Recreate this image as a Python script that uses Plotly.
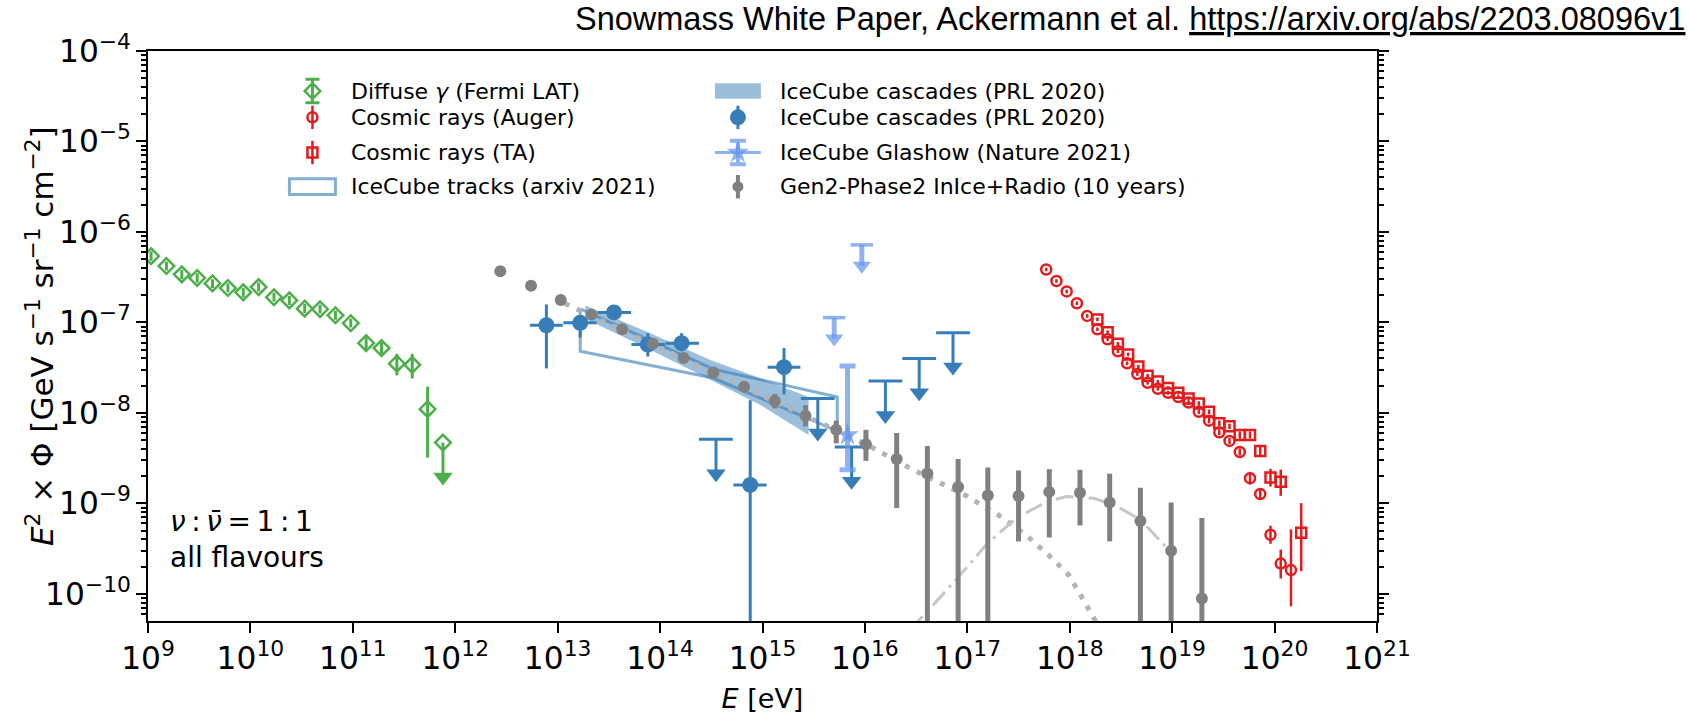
import numpy as np
import plotly.graph_objects as go

# ---------------------------------------------------------------------------
# Data: energies as log10(E / eV), fluxes as E^2 x Phi [GeV s^-1 sr^-1 cm^-2]
# ---------------------------------------------------------------------------

# Diffuse gamma rays (Fermi LAT)
fermi_lg_e = [9.03, 9.18, 9.33, 9.48, 9.63, 9.78, 9.93, 10.08, 10.23, 10.38,
              10.53, 10.68, 10.83, 10.98, 11.13, 11.28, 11.43, 11.58, 11.73]
fermi_flux = [5.4e-7, 4.2e-7, 3.4e-7, 3.1e-7, 2.7e-7, 2.4e-7, 2.15e-7, 2.46e-7, 1.9e-7, 1.75e-7,
              1.42e-7, 1.40e-7, 1.20e-7, 9.8e-8, 5.9e-8, 5.2e-8, 3.5e-8, 3.4e-8, 1.1e-8]
fermi_lo = [4.8e-7, 3.75e-7, 3.0e-7, 2.75e-7, 2.4e-7, 2.15e-7, 1.9e-7, 2.2e-7, 1.7e-7, 1.56e-7,
            1.27e-7, 1.25e-7, 1.07e-7, 8.8e-8, 5.1e-8, 4.5e-8, 2.6e-8, 2.4e-8, 3.2e-9]
fermi_hi = [6.1e-7, 4.7e-7, 3.8e-7, 3.5e-7, 3.0e-7, 2.7e-7, 2.4e-7, 2.75e-7, 2.13e-7, 1.96e-7,
            1.6e-7, 1.57e-7, 1.35e-7, 1.1e-7, 6.8e-8, 6.0e-8, 4.5e-8, 4.5e-8, 1.95e-8]
fermi_ul_lg_e = [11.88]
fermi_ul_flux = [4.7e-9]

# Cosmic rays (Auger)
auger_lg_e = [17.77, 17.87, 17.97, 18.07, 18.17, 18.27, 18.37, 18.47, 18.56, 18.66,
              18.76, 18.86, 18.96, 19.06, 19.16, 19.26, 19.36, 19.46, 19.56, 19.66,
              19.76, 19.86, 19.96, 20.06, 20.16]
auger_flux = [3.85e-7, 2.87e-7, 2.2e-7, 1.63e-7, 1.18e-7, 8.4e-8, 6.5e-8, 4.8e-8, 3.53e-8, 2.69e-8,
              2.15e-8, 1.85e-8, 1.67e-8, 1.5e-8, 1.3e-8, 1.03e-8, 8.2e-9, 6.1e-9, 4.9e-9, 3.7e-9,
              1.9e-9, 1.27e-9, 4.5e-10, 2.16e-10, 1.83e-10]
auger_dn_dex = [0.02, 0.02, 0.02, 0.02, 0.02, 0.02, 0.02, 0.02, 0.02, 0.02,
                0.02, 0.02, 0.02, 0.02, 0.025, 0.025, 0.03, 0.03, 0.035, 0.04,
                0.07, 0.05, 0.10, 0.165, 0.40]
auger_up_dex = [0.02, 0.02, 0.02, 0.02, 0.02, 0.02, 0.02, 0.02, 0.02, 0.02,
                0.02, 0.02, 0.02, 0.02, 0.025, 0.025, 0.03, 0.03, 0.035, 0.04,
                0.07, 0.05, 0.10, 0.155, 0.45]

# Cosmic rays (TA)
ta_lg_e = [18.27, 18.37, 18.47, 18.57, 18.67, 18.76, 18.86, 18.96, 19.06, 19.16,
           19.26, 19.36, 19.46, 19.56, 19.66, 19.76, 19.86, 19.96, 20.06, 20.26]
ta_flux = [1.08e-7, 7.8e-8, 5.8e-8, 4.43e-8, 3.25e-8, 2.58e-8, 2.22e-8, 1.88e-8, 1.67e-8, 1.44e-8,
           1.27e-8, 1.03e-8, 7.7e-9, 7.1e-9, 5.7e-9, 5.7e-9, 3.8e-9, 1.93e-9, 1.73e-9, 4.75e-10]
ta_dn_dex = [0.02, 0.02, 0.02, 0.02, 0.02, 0.02, 0.02, 0.02, 0.02, 0.02,
             0.025, 0.025, 0.03, 0.03, 0.04, 0.04, 0.05, 0.10, 0.155, 0.426]
ta_up_dex = [0.02, 0.02, 0.02, 0.02, 0.02, 0.02, 0.02, 0.02, 0.02, 0.02,
             0.025, 0.025, 0.03, 0.03, 0.04, 0.04, 0.05, 0.097, 0.135, 0.326]

# IceCube tracks (arxiv 2021): upper / lower edge of the allowed region
tracks_lg_e = [13.22, 14.52, 15.73]
tracks_hi = [1.41e-7, 3.05e-8, 1.5e-8]
tracks_lo = [4.8e-8, 2.43e-8, 6.3e-9]

# IceCube cascades (PRL 2020): allowed band
band_lg_e = [13.27, 13.87, 14.49, 14.98, 15.45]
band_lo = [1.10e-7, 5.2e-8, 2.33e-8, 1.22e-8, 5.7e-9]
band_hi = [1.54e-7, 7.9e-8, 3.85e-8, 2.41e-8, 1.5e-8]

# IceCube cascades (PRL 2020): unfolded points and upper limits
casc_lg_e = [12.89, 13.22, 13.55, 13.88, 14.21, 14.88, 15.21]
casc_lg_e_lo = [12.73, 13.055, 13.388, 13.72, 14.055, 14.716, 15.05]
casc_lg_e_hi = [13.05, 13.38, 13.717, 14.05, 14.38, 15.04, 15.37]
casc_flux = [9.3e-8, 9.9e-8, 1.29e-7, 5.7e-8, 5.9e-8, 1.6e-9, 3.2e-8]
casc_lo = [3.1e-8, 6.8e-8, 1.15e-7, 4.2e-8, 4.8e-8, 1e-12, 1.6e-8]
casc_hi = [1.58e-7, 1.15e-7, 1.45e-7, 7.6e-8, 7.6e-8, 1.38e-8, 5.2e-8]
casc_ul_lg_e = [14.546, 15.54, 15.87, 16.20, 16.53, 16.86]
casc_ul_lg_e_lo = [14.38, 15.375, 15.705, 16.035, 16.365, 16.695]
casc_ul_lg_e_hi = [14.71, 15.705, 16.035, 16.365, 16.695, 17.025]
casc_ul_flux = [5.1e-9, 1.44e-8, 4.2e-9, 2.25e-8, 4.0e-8, 7.7e-8]

# IceCube Glashow resonance event (Nature 2021)
glashow_lg_e = [15.83]
glashow_flux = [5.7e-9]
glashow_lo = [2.35e-9]
glashow_hi = [3.3e-8]
glashow_ul_lg_e = [15.70, 15.97]
glashow_ul_flux = [1.13e-7, 7.2e-7]

# Gen2-Phase2 InIce+Radio (10 years) projected sensitivity points
gen2_lg_e = [12.44, 12.74, 13.03, 13.33, 13.63, 13.93, 14.23, 14.52, 14.82, 15.12,
             15.42, 15.72, 16.01, 16.31, 16.61, 16.91, 17.20, 17.50, 17.80, 18.10,
             18.39, 18.69, 18.99, 19.29]
gen2_flux = [3.69e-7, 2.54e-7, 1.77e-7, 1.22e-7, 8.4e-8, 5.8e-8, 4.04e-8, 2.8e-8, 1.94e-8, 1.35e-8,
             9.3e-9, 6.5e-9, 4.5e-9, 3.1e-9, 2.14e-9, 1.52e-9, 1.22e-9, 1.21e-9, 1.34e-9, 1.31e-9,
             1.02e-9, 6.4e-10, 3.0e-10, 8.9e-11]
gen2_lo = [3.2e-7, 2.37e-7, 1.65e-7, 1.14e-7, 7.8e-8, 5.35e-8, 3.7e-8, 2.5e-8, 1.7e-8, 1.12e-8,
           7.1e-9, 4.6e-9, 2.95e-9, 8.9e-10, 1e-12, 1e-12, 1e-12, 3.8e-10, 4.2e-10, 5.7e-10,
           3.8e-10, 1e-12, 1e-12, 1e-12]
gen2_hi = [4.2e-7, 2.72e-7, 1.9e-7, 1.31e-7, 9.0e-8, 6.3e-8, 4.4e-8, 3.15e-8, 2.2e-8, 1.62e-8,
           1.22e-8, 8.2e-9, 6.5e-9, 6.0e-9, 4.3e-9, 3.1e-9, 2.5e-9, 2.31e-9, 2.39e-9, 2.35e-9,
           2.13e-9, 1.49e-9, 1.02e-9, 6.9e-10]

# Gen2 model curves
model_dotted_lg_e = [13.07, 13.5, 14.0, 14.5, 15.0, 15.5, 16.0, 16.44, 16.72, 16.98,
                     17.35, 17.58, 17.79, 17.99, 18.13, 18.21, 18.3]
model_dotted_flux = [1.62e-7, 9.55e-8, 5.25e-8, 2.85e-8, 1.55e-8, 8.4e-9, 4.57e-9, 2.45e-9, 1.74e-9, 1.23e-9,
                     6.9e-10, 4.4e-10, 2.7e-10, 1.62e-10, 8.7e-11, 6.0e-11, 4.0e-11]
model_dashdot_lg_e = [16.45, 16.52, 16.67, 16.9, 17.19, 17.48, 17.78, 17.97, 18.23, 18.43,
                      18.69, 18.93, 18.99]
model_dashdot_flux = [3.98e-11, 5.0e-11, 7.6e-11, 1.48e-10, 3.55e-10, 6.9e-10, 1.05e-9, 1.19e-9, 1.14e-9, 9.7e-10,
                      6.6e-10, 3.4e-10, 3.0e-10]

# ---------------------------------------------------------------------------
GREEN = "#4daf4a"
RED = "#e41a1c"
BLUE = "#377eb8"
BAND = "rgba(55,126,184,0.5)"
TRACK = "rgba(55,126,184,0.62)"
LBLUE = "rgba(100,149,237,0.72)"
GRAY = "#808080"
FONT = "DejaVu Sans"

ARROW_DEX = 0.38       # offset of the upper-limit arrow head below its level
GL_ARROW_DEX = 0.23


def E(lg):
    return np.power(10.0, np.asarray(lg, dtype=float))


def arr(v):
    return np.asarray(v, dtype=float)


fig = go.Figure()

# cascades band
bx = np.concatenate([E(band_lg_e), E(band_lg_e)[::-1]])
by = np.concatenate([arr(band_lo), arr(band_hi)[::-1]])
fig.add_trace(go.Scatter(x=bx, y=by, mode="lines", fill="toself", fillcolor=BAND,
                         line=dict(width=0, color=BAND), hoverinfo="skip"))

# tracks outline
tx = np.concatenate([E(tracks_lg_e), E(tracks_lg_e)[::-1], E(tracks_lg_e)[:1]])
ty = np.concatenate([arr(tracks_hi), arr(tracks_lo)[::-1], arr(tracks_hi)[:1]])
fig.add_trace(go.Scatter(x=tx, y=ty, mode="lines", line=dict(color=TRACK, width=3)))

# Gen2 model curves
fig.add_trace(go.Scatter(x=E(model_dotted_lg_e), y=model_dotted_flux, mode="lines",
                         line=dict(color="#b4b4b4", width=5, dash="5px,8px")))
fig.add_trace(go.Scatter(x=E(model_dashdot_lg_e), y=model_dashdot_flux, mode="lines",
                         line=dict(color="#c6c6c6", width=3, dash="18px,6px,3px,6px")))

# Fermi LAT
ff = arr(fermi_flux)
fig.add_trace(go.Scatter(
    x=E(fermi_lg_e), y=ff, mode="markers",
    marker=dict(symbol="diamond-open", size=12, color=GREEN, line=dict(width=2.5, color=GREEN)),
    error_y=dict(type="data", symmetric=False, array=arr(fermi_hi) - ff, arrayminus=ff - arr(fermi_lo),
                 color=GREEN, thickness=3, width=0)))
fu = arr(fermi_ul_flux)
fig.add_trace(go.Scatter(
    x=E(fermi_ul_lg_e), y=fu, mode="markers",
    marker=dict(symbol="diamond-open", size=12, color=GREEN, line=dict(width=2.5, color=GREEN)),
    error_y=dict(type="data", symmetric=False, array=fu * 0, arrayminus=fu - fu * 10 ** (-ARROW_DEX),
                 color=GREEN, thickness=3, width=0)))
fig.add_trace(go.Scatter(x=E(fermi_ul_lg_e), y=fu * 10 ** (-ARROW_DEX), mode="markers",
                         marker=dict(symbol="triangle-down", size=17, color=GREEN)))

# Auger
af = arr(auger_flux)
fig.add_trace(go.Scatter(
    x=E(auger_lg_e), y=af, mode="markers",
    marker=dict(symbol="circle-open", size=10, color=RED, line=dict(width=2.5, color=RED)),
    error_y=dict(type="data", symmetric=False,
                 array=af * (10 ** arr(auger_up_dex) - 1), arrayminus=af * (1 - 10 ** (-arr(auger_dn_dex))),
                 color=RED, thickness=2.5, width=0)))

# TA
taf = arr(ta_flux)
fig.add_trace(go.Scatter(
    x=E(ta_lg_e), y=taf, mode="markers",
    marker=dict(symbol="square-open", size=10, color=RED, line=dict(width=2.5, color=RED)),
    error_y=dict(type="data", symmetric=False,
                 array=taf * (10 ** arr(ta_up_dex) - 1), arrayminus=taf * (1 - 10 ** (-arr(ta_dn_dex))),
                 color=RED, thickness=2.5, width=0)))

# IceCube cascades points
cx = E(casc_lg_e)
cf = arr(casc_flux)
fig.add_trace(go.Scatter(
    x=cx, y=cf, mode="markers",
    marker=dict(symbol="circle", size=16, color=BLUE),
    error_x=dict(type="data", symmetric=False, array=E(casc_lg_e_hi) - cx, arrayminus=cx - E(casc_lg_e_lo),
                 color=BLUE, thickness=3, width=0),
    error_y=dict(type="data", symmetric=False, array=arr(casc_hi) - cf, arrayminus=cf - arr(casc_lo),
                 color=BLUE, thickness=3, width=0)))

# IceCube cascades upper limits
ux = E(casc_ul_lg_e)
uf = arr(casc_ul_flux)
fig.add_trace(go.Scatter(
    x=ux, y=uf, mode="markers", marker=dict(size=1, color=BLUE, opacity=0),
    error_x=dict(type="data", symmetric=False, array=E(casc_ul_lg_e_hi) - ux, arrayminus=ux - E(casc_ul_lg_e_lo),
                 color=BLUE, thickness=3, width=0),
    error_y=dict(type="data", symmetric=False, array=uf * 0, arrayminus=uf - uf * 10 ** (-ARROW_DEX),
                 color=BLUE, thickness=3, width=0)))
fig.add_trace(go.Scatter(x=ux, y=uf * 10 ** (-ARROW_DEX), mode="markers",
                         marker=dict(symbol="triangle-down", size=17, color=BLUE)))

# Glashow upper limits
gx = E(glashow_ul_lg_e)
gu = arr(glashow_ul_flux)
fig.add_trace(go.Scatter(
    x=gx, y=gu, mode="markers",
    marker=dict(symbol="line-ew", size=16, color=LBLUE, line=dict(width=3.5, color=LBLUE)),
    error_y=dict(type="data", symmetric=False, array=gu * 0, arrayminus=gu - gu * 10 ** (-GL_ARROW_DEX),
                 color=LBLUE, thickness=5, width=0)))
fig.add_trace(go.Scatter(x=gx, y=gu * 10 ** (-GL_ARROW_DEX), mode="markers",
                         marker=dict(symbol="triangle-down", size=16, color=LBLUE)))

# Glashow point
gf = arr(glashow_flux)
fig.add_trace(go.Scatter(
    x=E(glashow_lg_e), y=gf, mode="markers",
    marker=dict(symbol="star", size=17, color=LBLUE),
    error_y=dict(type="data", symmetric=False, array=arr(glashow_hi) - gf, arrayminus=gf - arr(glashow_lo),
                 color=LBLUE, thickness=5, width=8)))

# Gen2 projected points
g2f = arr(gen2_flux)
fig.add_trace(go.Scatter(
    x=E(gen2_lg_e), y=g2f, mode="markers",
    marker=dict(symbol="circle", size=12, color=GRAY),
    error_y=dict(type="data", symmetric=False, array=arr(gen2_hi) - g2f, arrayminus=g2f - arr(gen2_lo),
                 color=GRAY, thickness=5, width=0)))

# ---------------------------------------------------------------------------
# Legend, drawn on a hidden overlay axis spanning the plot area in [0, 1]
# ---------------------------------------------------------------------------
col_x = [0.1338, 0.4800]
text_x = [0.1635, 0.5126]
row_y = [0.9298, 0.8836, 0.8219, 0.762]
HALF_W = 0.0187
HALF_H = 0.0137
EB = 0.0205

legend_keys = [
    dict(col=0, row=0, sym="diamond-open", size=12, color=GREEN, lw=2.5, eb_w=7, eb_t=3),
    dict(col=0, row=1, sym="circle-open", size=10, color=RED, lw=2.5, eb_w=0, eb_t=2.5),
    dict(col=0, row=2, sym="square-open", size=10, color=RED, lw=2.5, eb_w=0, eb_t=2.5),
    dict(col=1, row=1, sym="circle", size=16, color=BLUE, lw=0, eb_w=0, eb_t=3),
    dict(col=1, row=2, sym="star", size=17, color=LBLUE, lw=0, eb_w=8, eb_t=4),
    dict(col=1, row=3, sym="circle", size=11, color=GRAY, lw=0, eb_w=0, eb_t=4),
]
# horizontal stroke of the Glashow key
fig.add_trace(go.Scatter(x=[col_x[1] - HALF_W, col_x[1] + HALF_W], y=[row_y[2], row_y[2]],
                         mode="lines", line=dict(color=LBLUE, width=3), xaxis="x2", yaxis="y2"))
for k in legend_keys:
    fig.add_trace(go.Scatter(
        x=[col_x[k["col"]]], y=[row_y[k["row"]]], mode="markers", xaxis="x2", yaxis="y2",
        marker=dict(symbol=k["sym"], size=k["size"], color=k["color"],
                    line=dict(width=k["lw"], color=k["color"])),
        error_y=dict(type="constant", value=EB, color=k["color"], thickness=k["eb_t"], width=k["eb_w"])))

shapes = [
    dict(type="rect", xref="paper", yref="paper",
         x0=col_x[0] - HALF_W, x1=col_x[0] + HALF_W, y0=row_y[3] - HALF_H, y1=row_y[3] + HALF_H,
         line=dict(color=TRACK, width=3), fillcolor="rgba(0,0,0,0)"),
    dict(type="rect", xref="paper", yref="paper",
         x0=col_x[1] - HALF_W, x1=col_x[1] + HALF_W, y0=row_y[0] - HALF_H, y1=row_y[0] + HALF_H,
         line=dict(width=0), fillcolor=BAND),
]

legend_labels = [
    (0, 0, "Diffuse <i>γ</i> (Fermi LAT)"),
    (0, 1, "Cosmic rays (Auger)"),
    (0, 2, "Cosmic rays (TA)"),
    (0, 3, "IceCube tracks (arxiv 2021)"),
    (1, 0, "IceCube cascades (PRL 2020)"),
    (1, 1, "IceCube cascades (PRL 2020)"),
    (1, 2, "IceCube Glashow (Nature 2021)"),
    (1, 3, "Gen2-Phase2 InIce+Radio (10 years)"),
]
annotations = []
for c, r, txt in legend_labels:
    annotations.append(dict(x=text_x[c], y=row_y[r], xref="paper", yref="paper", text=txt,
                            showarrow=False, xanchor="left", yanchor="middle",
                            font=dict(family=FONT, size=22, color="black")))

annotations += [
    dict(x=0.016, y=0.1747, xref="paper", yref="paper",
         text="<i>ν</i>\u2009:\u2009<i>ν̄</i>\u2009=\u20091\u2009:\u20091",
         showarrow=False, xanchor="left", yanchor="middle", font=dict(family=FONT, size=28, color="black")),
    dict(x=0.016, y=0.1113, xref="paper", yref="paper", text="all flavours",
         showarrow=False, xanchor="left", yanchor="middle", font=dict(family=FONT, size=28, color="black")),
    dict(x=-0.0879, y=0.5, xref="paper", yref="paper", textangle=-90,
         text="<i>E</i><sup>2</sup> × Φ [GeV s<sup>−1</sup> sr<sup>−1</sup> cm<sup>−2</sup>]",
         showarrow=False, xanchor="center", yanchor="middle", font=dict(family=FONT, size=31, color="black")),
    dict(x=1.2523, y=1.0565, xref="paper", yref="paper",
         text="Snowmass White Paper, Ackermann et al. <u>https://arxiv.org/abs/2203.08096v1</u>",
         showarrow=False, xanchor="right", yanchor="middle",
         font=dict(family="Liberation Sans", size=32.5, color="black")),
]

fig.update_layout(
    width=1693, height=721,
    margin=dict(l=148, r=316, t=51, b=86),
    paper_bgcolor="white", plot_bgcolor="white",
    showlegend=False,
    font=dict(family=FONT, color="black"),
    shapes=shapes, annotations=annotations,
    xaxis=dict(type="log", range=[9, 21], dtick=1, exponentformat="power",
               ticks="outside", ticklen=10, tickwidth=2, tickcolor="black",
               showline=True, linecolor="black", linewidth=2, mirror=True,
               showgrid=False, zeroline=False, tickfont=dict(family=FONT, size=25),
               title=dict(text="<i>E</i> [eV]", font=dict(family=FONT, size=27), standoff=14)),
    yaxis=dict(type="log", range=[-10.3, -4], dtick=1, exponentformat="power",
               ticks="outside", ticklen=10, tickwidth=2, tickcolor="black",
               minor=dict(ticks="outside", ticklen=5, tickwidth=1.5, tickcolor="black", dtick="D1", showgrid=False),
               showline=True, linecolor="black", linewidth=2, mirror="ticks",
               showgrid=False, zeroline=False, tickfont=dict(family=FONT, size=25)),
    xaxis2=dict(overlaying="x", anchor="y2", range=[0, 1], visible=False, fixedrange=True),
    yaxis2=dict(overlaying="y", anchor="x2", range=[0, 1], visible=False, fixedrange=True),
)

fig.write_html("out.html")
